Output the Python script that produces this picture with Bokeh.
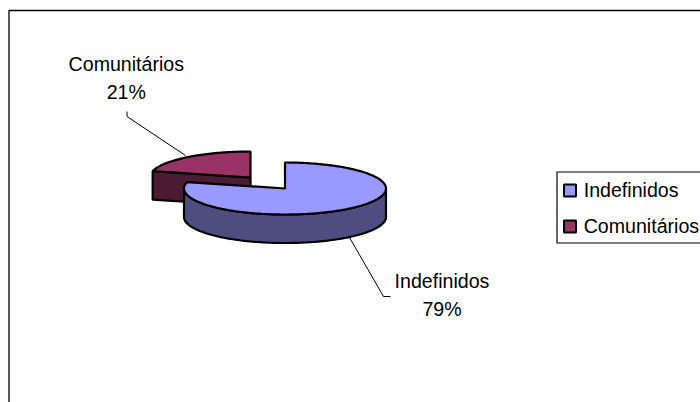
import numpy as np
from bokeh.plotting import figure
from bokeh.models import Range1d
from bokeh.core.properties import value
from bokeh.embed import file_html
from bokeh.resources import INLINE

categories = ["Indefinidos", "Comunitários"]
shares = [79, 21]
colors = ["#9999FF", "#993366"]
side_colors = ["#4D4D80", "#4D1A33"]

FONT = value("Liberation Sans")
FS = "19.6px"
RX, RY, DEPTH = 101, 26, 28.5

p = figure(width=700, height=402, output_backend="svg", toolbar_location=None,
           x_range=Range1d(0, 700), y_range=Range1d(402, 0),
           min_border=0, min_border_left=0, min_border_right=0,
           min_border_top=0, min_border_bottom=0, outline_line_color=None)
p.xaxis.visible = False
p.yaxis.visible = False
p.grid.visible = False
p.background_fill_color = "white"
p.border_fill_color = "white"

# chart frame
p.line([8.5, 8.5, 700], [402, 10, 10], line_color="black", line_width=1.3)

def pt(cx, cy, t, dz=0):
    return cx + RX * np.sin(t), cy - RY * np.cos(t) + dz

total = sum(shares)
sweep = [s / total * 2 * np.pi for s in shares]

# Comunitários (exploded), runs from the end of Indefinidos up to 12 o'clock
cx, cy = 250, 177
t = np.linspace(2 * np.pi - sweep[1], 2 * np.pi, 60)
ax, ay = pt(cx, cy, t)
p.patch([cx, ax[0], ax[0], cx], [cy, ay[0], ay[0] + DEPTH, cy + DEPTH],
        fill_color=side_colors[1], line_color="black", line_width=2.2)
p.patch(np.r_[cx, ax], np.r_[cy, ay], fill_color=colors[1], line_color="black", line_width=2.2)

# Indefinidos, starts at 12 o'clock clockwise
cx, cy = 284.5, 188
t = np.linspace(np.pi / 2, 1.5 * np.pi, 120)
ax, ay = pt(cx, cy, t)
p.patch(np.r_[ax, ax[::-1]], np.r_[ay, ay[::-1] + DEPTH],
        fill_color=side_colors[0], line_color="black", line_width=2.2)
t = np.linspace(0, sweep[0], 200)
ax, ay = pt(cx, cy, t)
p.patch(np.r_[cx, ax], np.r_[cy, ay], fill_color=colors[0], line_color="black", line_width=2.2)

# leader lines
p.line([126.5, 126.5, 185], [111, 116, 155], line_color="black", line_width=1)
p.line([349, 383, 390], [237, 296, 296], line_color="black", line_width=1)

# data labels
label_pos = {"Indefinidos": (441.5, 280, 308), "Comunitários": (125.8, 63, 91)}
for c, s in zip(categories, shares):
    x, y1, y2 = label_pos[c]
    p.text([x, x], [y1, y2], text=[c, f"{s}%"], text_align="center", text_baseline="alphabetic",
           text_font=FONT, text_font_size=FS, text_color="black")

# legend
p.line([700, 556.5, 556.5, 700], [171.5, 171.5, 242.5, 242.5], line_color="black", line_width=1.2)
for c, col, ym, yb in zip(categories, colors, [190, 226], [189, 225]):
    p.quad(left=[563.5], right=[575.5], top=[ym - 6], bottom=[ym + 6],
           fill_color=col, line_color="black", line_width=2)
    p.text([583.2], [yb], text=[c], text_baseline="alphabetic",
           text_font=FONT, text_font_size=FS, text_color="black")

open("out.html", "w").write(file_html(p, INLINE))
